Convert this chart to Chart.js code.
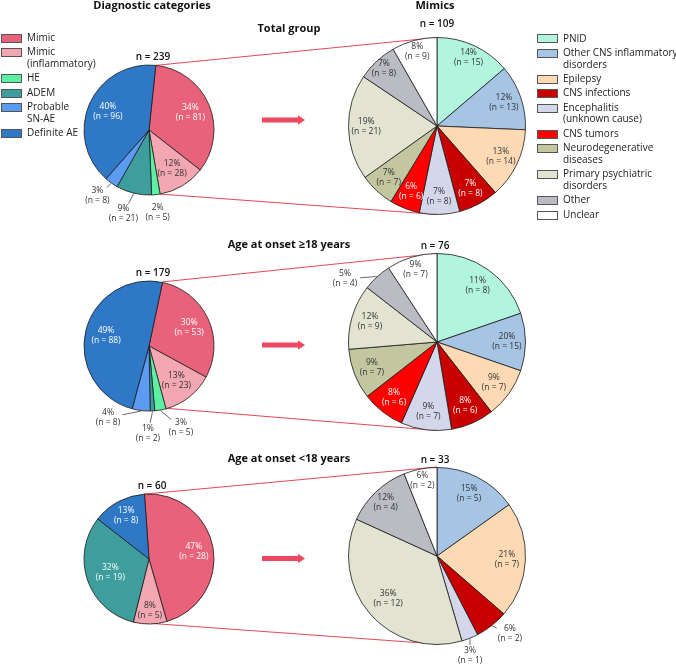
<!DOCTYPE html>
<html>
<head>
<meta charset="utf-8">
<script src="https://cdn.jsdelivr.net/npm/chart.js@4.4.1/dist/chart.umd.min.js"></script>
<style>
  body { margin: 0; background: #fff; font-family: "Open Sans", sans-serif; color: #1a1a1a; }
  #wrap { position: relative; width: 676px; height: 666px; overflow: hidden; }
  #wrap canvas { position: absolute; }
  .txt { position: absolute; white-space: nowrap; transform: translateX(-50%); }
  .legend { position: absolute; font-size: 10px; line-height: 11.7px; color: #222; }
  .legend .item { position: relative; padding-left: 26px; margin-bottom: 2.7px; white-space: nowrap; }
  .legend .sw { position: absolute; left: 0; top: 1.9px; width: 19px; height: 7px; border: 1px solid #555; }
</style>
</head>
<body>
<div id="wrap">
  <canvas id="bg" width="676" height="666" style="left:0;top:0"></canvas>
</div>
<script>
// categories
const diagCats = ['Mimic', 'Mimic\n(inflammatory)', 'HE', 'ADEM', 'Probable\nSN-AE', 'Definite AE'];
const mimicCats = ['PNID', 'Other CNS inflammatory\ndisorders', 'Epilepsy', 'CNS infections',
    'Encephalitis\n(unknown cause)', 'CNS tumors', 'Neurodegenerative\ndiseases',
    'Primary psychiatric\ndisorders', 'Other', 'Unclear'];

const groupTitles = ['Total group', 'Age at onset \u226518 years', 'Age at onset <18 years'];
const diagTotals = [239, 179, 60];
const mimicTotals = [109, 76, 33];

// diagnostic categories, counts and printed percentages
const diagTotalN = [81, 28, 5, 21, 8, 96];
const diagTotalPct = [34, 12, 2, 9, 3, 40];
const diagAdultN = [53, 23, 5, 2, 8, 88];
const diagAdultPct = [30, 13, 3, 1, 4, 49];
const diagChildN = [28, 5, 0, 19, 0, 8];
const diagChildPct = [47, 8, 0, 32, 0, 13];

// mimics
const mimicTotalN = [15, 13, 14, 8, 8, 6, 7, 21, 8, 9];
const mimicTotalPct = [14, 12, 13, 7, 7, 6, 7, 19, 7, 8];
const mimicAdultN = [8, 15, 7, 6, 7, 6, 7, 9, 4, 7];
const mimicAdultPct = [11, 20, 9, 8, 9, 8, 9, 12, 5, 9];
// the figure draws the first two wedges the other way round to their labels
const mimicAdultWedge = [15, 8, 7, 6, 7, 6, 7, 9, 4, 7];
const mimicChildN = [0, 5, 7, 2, 1, 0, 0, 12, 4, 2];
const mimicChildPct = [0, 15, 21, 6, 3, 0, 0, 36, 12, 6];

const diagColors = ['#e8627a', '#f2a7b3', '#5df0a5', '#3e9e9e', '#5b9cf2', '#2f78c6'];
const mimicColors = ['#b2f5de', '#a6c4e4', '#fddab4', '#c80000', '#d4d6ea', '#ff0000',
    '#c3c7a0', '#e2e3d1', '#babbc3', '#ffffff'];

// layout of each pie: centre, radius, rotation, label placement
const pieSpecs = [
    { id: 'pD0', cx: 149, cy: 130, r: 65, size: 250, rot: 6, wedge: diagTotalN, n: diagTotalN, pct: diagTotalPct,
      colors: diagColors, white: [0, 3, 5], insideR: 0.69, inside: {},
      outside: { 2: [174, 1.27, false], 3: [197, 1.35, true], 4: [218, 1.29, true] } },
    { id: 'pD1', cx: 149, cy: 345.5, r: 65, size: 250, rot: 12, wedge: diagAdultN, n: diagAdultN, pct: diagAdultPct,
      colors: diagColors, white: [0, 5], insideR: 0.68, inside: {},
      outside: { 2: [158.6, 1.35, true], 3: [180.7, 1.35, true], 4: [209.8, 1.27, true] } },
    { id: 'pD2', cx: 148.5, cy: 559, r: 65, size: 250, rot: -4, wedge: diagChildN, n: diagChildN, pct: diagChildPct,
      colors: diagColors, white: [0, 3, 5], insideR: 0.7, inside: { 1: 0.79, 3: 0.63, 5: 0.75 },
      outside: {} },
    { id: 'pM0', cx: 437, cy: 126, r: 88.5, size: 280, rot: 0, wedge: mimicTotalN, n: mimicTotalN, pct: mimicTotalPct,
      colors: mimicColors, white: [3, 5], insideR: 0.8, inside: { 0: 0.85, 8: 0.88, 9: 0.87 },
      outside: {} },
    { id: 'pM1', cx: 437, cy: 342, r: 88.5, size: 280, rot: 0, wedge: mimicAdultWedge, n: mimicAdultN, pct: mimicAdultPct,
      colors: mimicColors, white: [3, 5], insideR: 0.79, inside: { 9: 0.85 },
      outside: { 8: [304.4, 1.26, true] } },
    { id: 'pM2', cx: 437, cy: 555.5, r: 88.5, size: 280, rot: 0, wedge: mimicChildN, n: mimicChildN, pct: mimicChildPct,
      colors: mimicColors, white: [3, 5], insideR: 0.79, inside: { 7: 0.73, 8: 0.84, 9: 0.87 },
      outside: { 3: [136.7, 1.2, true], 4: [161.7, 1.19, true] } }
];
const specById = {};
pieSpecs.forEach(s => specById[s.id] = s);

// plugin: percentage + count inside or beside each wedge
const sliceLabels = {
    id: 'sliceLabels',
    afterDatasetsDraw(chart) {
        const spec = specById[chart.canvas.id];
        const ctx = chart.ctx;
        const arcs = chart.getDatasetMeta(0).data;
        ctx.save();
        ctx.font = '8.5px "Open Sans"';
        ctx.textAlign = 'center';
        ctx.textBaseline = 'middle';
        arcs.forEach((arc, i) => {
            if (!spec.n[i]) return;
            const { x, y, startAngle, endAngle, outerRadius } = arc;
            const mid = (startAngle + endAngle) / 2;
            let lx, ly;
            let col = spec.white.includes(i) ? '#ffffff' : '#333333';
            const out = spec.outside[i];
            if (out) {
                const a = (out[0] - 90) * Math.PI / 180;
                lx = x + Math.cos(a) * out[1] * outerRadius;
                ly = y + Math.sin(a) * out[1] * outerRadius;
                col = '#333333';
                if (out[2]) {
                    const sx = x + Math.cos(mid) * (outerRadius + 0.5);
                    const sy = y + Math.sin(mid) * (outerRadius + 0.5);
                    const dx = lx - sx, dy = ly - sy;
                    const len = Math.hypot(dx, dy);
                    const ux = dx / len, uy = dy / len;
                    const gap = 1 / Math.hypot(ux / 15, uy / 11);
                    if (len > gap + 2) {
                        ctx.strokeStyle = '#444';
                        ctx.lineWidth = 0.8;
                        ctx.beginPath();
                        ctx.moveTo(sx, sy);
                        ctx.lineTo(sx + ux * (len - gap), sy + uy * (len - gap));
                        ctx.stroke();
                    }
                }
            } else {
                const k = spec.inside[i] || spec.insideR;
                lx = x + Math.cos(mid) * k * outerRadius;
                ly = y + Math.sin(mid) * k * outerRadius;
            }
            ctx.fillStyle = col;
            ctx.fillText(spec.pct[i] + '%', lx, ly - 5);
            ctx.fillText('(n = ' + spec.n[i] + ')', lx, ly + 5);
        });
        ctx.restore();
    }
};

const wrap = document.getElementById('wrap');
const charts = {};

pieSpecs.forEach(spec => {
    const cv = document.createElement('canvas');
    cv.id = spec.id;
    cv.width = spec.size;
    cv.height = spec.size;
    cv.style.left = (spec.cx - spec.size / 2) + 'px';
    cv.style.top = (spec.cy - spec.size / 2) + 'px';
    wrap.appendChild(cv);
    const cats = spec.colors === diagColors ? diagCats : mimicCats;
    charts[spec.id] = new Chart(cv.getContext('2d'), {
        type: 'pie',
        data: {
            labels: cats.map(c => c.replace('\n', ' ')),
            datasets: [{
                data: spec.wedge,
                backgroundColor: spec.colors,
                borderColor: '#1a1a1a',
                borderWidth: 0.8,
                hoverOffset: 0
            }]
        },
        options: {
            responsive: false,
            animation: false,
            devicePixelRatio: 1,
            radius: spec.r,
            rotation: spec.rot,
            layout: { padding: 0 },
            events: [],
            plugins: { legend: { display: false }, tooltip: { enabled: false }, title: { display: false } }
        },
        plugins: [sliceLabels]
    });
});

// connector lines (mimic part of each left pie -> whole right pie) and arrows
const bg = document.getElementById('bg').getContext('2d');
const arrowY = [120, 345, 558.5];
['0', '1', '2'].forEach((g, gi) => {
    const dSpec = specById['pD' + g], mSpec = specById['pM' + g];
    const dArcs = charts['pD' + g].getDatasetMeta(0).data;
    const mArc = charts['pM' + g].getDatasetMeta(0).data[0];
    const dx0 = dSpec.cx - dSpec.size / 2, dy0 = dSpec.cy - dSpec.size / 2;
    const mx0 = mSpec.cx - mSpec.size / 2, my0 = mSpec.cy - mSpec.size / 2;
    const R = dArcs[0].outerRadius;
    const a0 = dArcs[0].startAngle, a1 = dArcs[1].endAngle;
    const topX = mx0 + mArc.x, topY = my0 + mArc.y - mArc.outerRadius;
    const botY = my0 + mArc.y + mArc.outerRadius;
    bg.strokeStyle = '#e0333f';
    bg.lineWidth = 0.9;
    bg.beginPath();
    bg.moveTo(dx0 + dArcs[0].x + Math.cos(a0) * R, dy0 + dArcs[0].y + Math.sin(a0) * R);
    bg.lineTo(topX, topY);
    bg.moveTo(dx0 + dArcs[0].x + Math.cos(a1) * R, dy0 + dArcs[0].y + Math.sin(a1) * R);
    bg.lineTo(topX, botY);
    bg.stroke();

    // arrow
    const ay = arrowY[gi];
    bg.fillStyle = '#ec4862';
    bg.fillRect(262, ay - 2.5, 36.5, 5);
    bg.beginPath();
    bg.moveTo(298, ay - 4.7);
    bg.lineTo(305, ay);
    bg.lineTo(298, ay + 4.7);
    bg.closePath();
    bg.fill();
});

// text
function addText(str, x, baseline, size, weight) {
    const d = document.createElement('div');
    d.className = 'txt';
    d.textContent = str;
    d.style.fontSize = size + 'px';
    d.style.lineHeight = size + 'px';
    d.style.fontWeight = weight;
    d.style.left = x + 'px';
    d.style.top = (baseline - 0.888 * size) + 'px';
    d.style.color = '#111';
    wrap.appendChild(d);
}
addText('Diagnostic categories', 152, 8.5, 11, 700);
addText('Mimics', 435, 9, 11, 700);
const titleBase = [32, 247.5, 462];
const diagNx = [153, 153, 152], diagNBase = [60, 276, 489];
const mimicNx = [437, 435, 435], mimicNBase = [26.5, 249, 463];
groupTitles.forEach((t, i) => {
    addText(t, 289, titleBase[i], 11, 700);
    addText('n = ' + diagTotals[i], diagNx[i], diagNBase[i], 10, 600);
    addText('n = ' + mimicTotals[i], mimicNx[i], mimicNBase[i], 10, 600);
});

function addLegend(cats, colors, left, top) {
    const box = document.createElement('div');
    box.className = 'legend';
    box.style.left = left + 'px';
    box.style.top = top + 'px';
    cats.forEach((c, i) => {
        const it = document.createElement('div');
        it.className = 'item';
        const sw = document.createElement('span');
        sw.className = 'sw';
        sw.style.background = colors[i];
        it.appendChild(sw);
        c.split('\n').forEach((line, j) => {
            if (j) it.appendChild(document.createElement('br'));
            it.appendChild(document.createTextNode(line));
        });
        box.appendChild(it);
    });
    wrap.appendChild(box);
}
addLegend(diagCats, diagColors, 1, 32);
addLegend(mimicCats, mimicColors, 537, 32.5);
</script>
</body>
</html>
